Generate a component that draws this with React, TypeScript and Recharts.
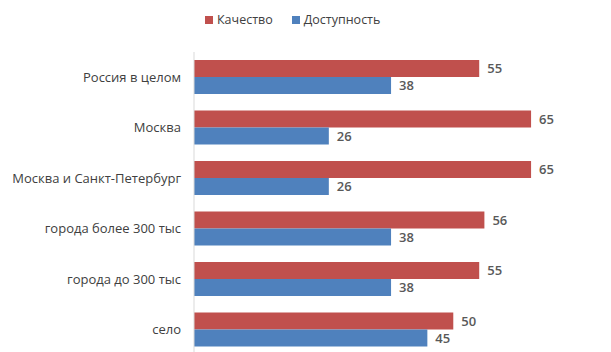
import { BarChart, Bar, XAxis, YAxis, LabelList } from 'recharts'

const categories = [
    'Россия в целом',
    'Москва',
    'Москва и Санкт-Петербург',
    'города более 300 тыс',
    'города до 300 тыс',
    'село',
]
const quality = [55, 65, 65, 56, 55, 50]
const access = [38, 26, 26, 38, 38, 45]

const RED = '#c0504d'
const BLUE = '#4f81bd'
const FONT = '"Open Sans", Lato, sans-serif'

const data = categories.map((name, i) => ({ name, quality: quality[i], access: access[i] }))

function LegendBox() {
    const items = [
        { label: 'Качество', color: RED },
        { label: 'Доступность', color: BLUE },
    ]
    return (
        <div style={{ position: 'absolute', top: 11, left: 205, display: 'flex', gap: 19, fontFamily: FONT, fontSize: 12.5, color: '#404040' }}>
            {items.map((it) => (
                <div key={it.label} style={{ display: 'flex', alignItems: 'center', gap: 4 }}>
                    <span style={{ width: 8, height: 8, background: it.color, display: 'inline-block' }} />
                    <span>{it.label}</span>
                </div>
            ))}
        </div>
    )
}

export default function App() {
    return (
        <div style={{ width: 611, height: 352, overflow: 'hidden', background: '#fff', position: 'relative' }}>
            <style>{`body{margin:0}`}</style>
            <LegendBox />
            <BarChart
                width={611}
                height={362}
                data={data}
                layout="vertical"
                margin={{ top: 52, right: 54, bottom: 7, left: 0 }}
                barCategoryGap="16%"
                barGap={0}
            >
                <XAxis type="number" domain={[0, 70]} hide />
                <YAxis
                    type="category"
                    dataKey="name"
                    width={194}
                    axisLine={{ stroke: '#d9d9d9' }}
                    tickLine={false}
                    tickMargin={7}
                    tick={{ fontFamily: FONT, fontSize: 13, fill: '#404040' }}
                />
                <Bar dataKey="quality" name="Качество" fill={RED} isAnimationActive={false}>
                    <LabelList dataKey="quality" position="right" offset={8} style={{ fontFamily: FONT, fontSize: 13, fill: '#595959', fontWeight: 600 }} />
                </Bar>
                <Bar dataKey="access" name="Доступность" fill={BLUE} isAnimationActive={false}>
                    <LabelList dataKey="access" position="right" offset={8} style={{ fontFamily: FONT, fontSize: 13, fill: '#595959', fontWeight: 600 }} />
                </Bar>
            </BarChart>
        </div>
    )
}
